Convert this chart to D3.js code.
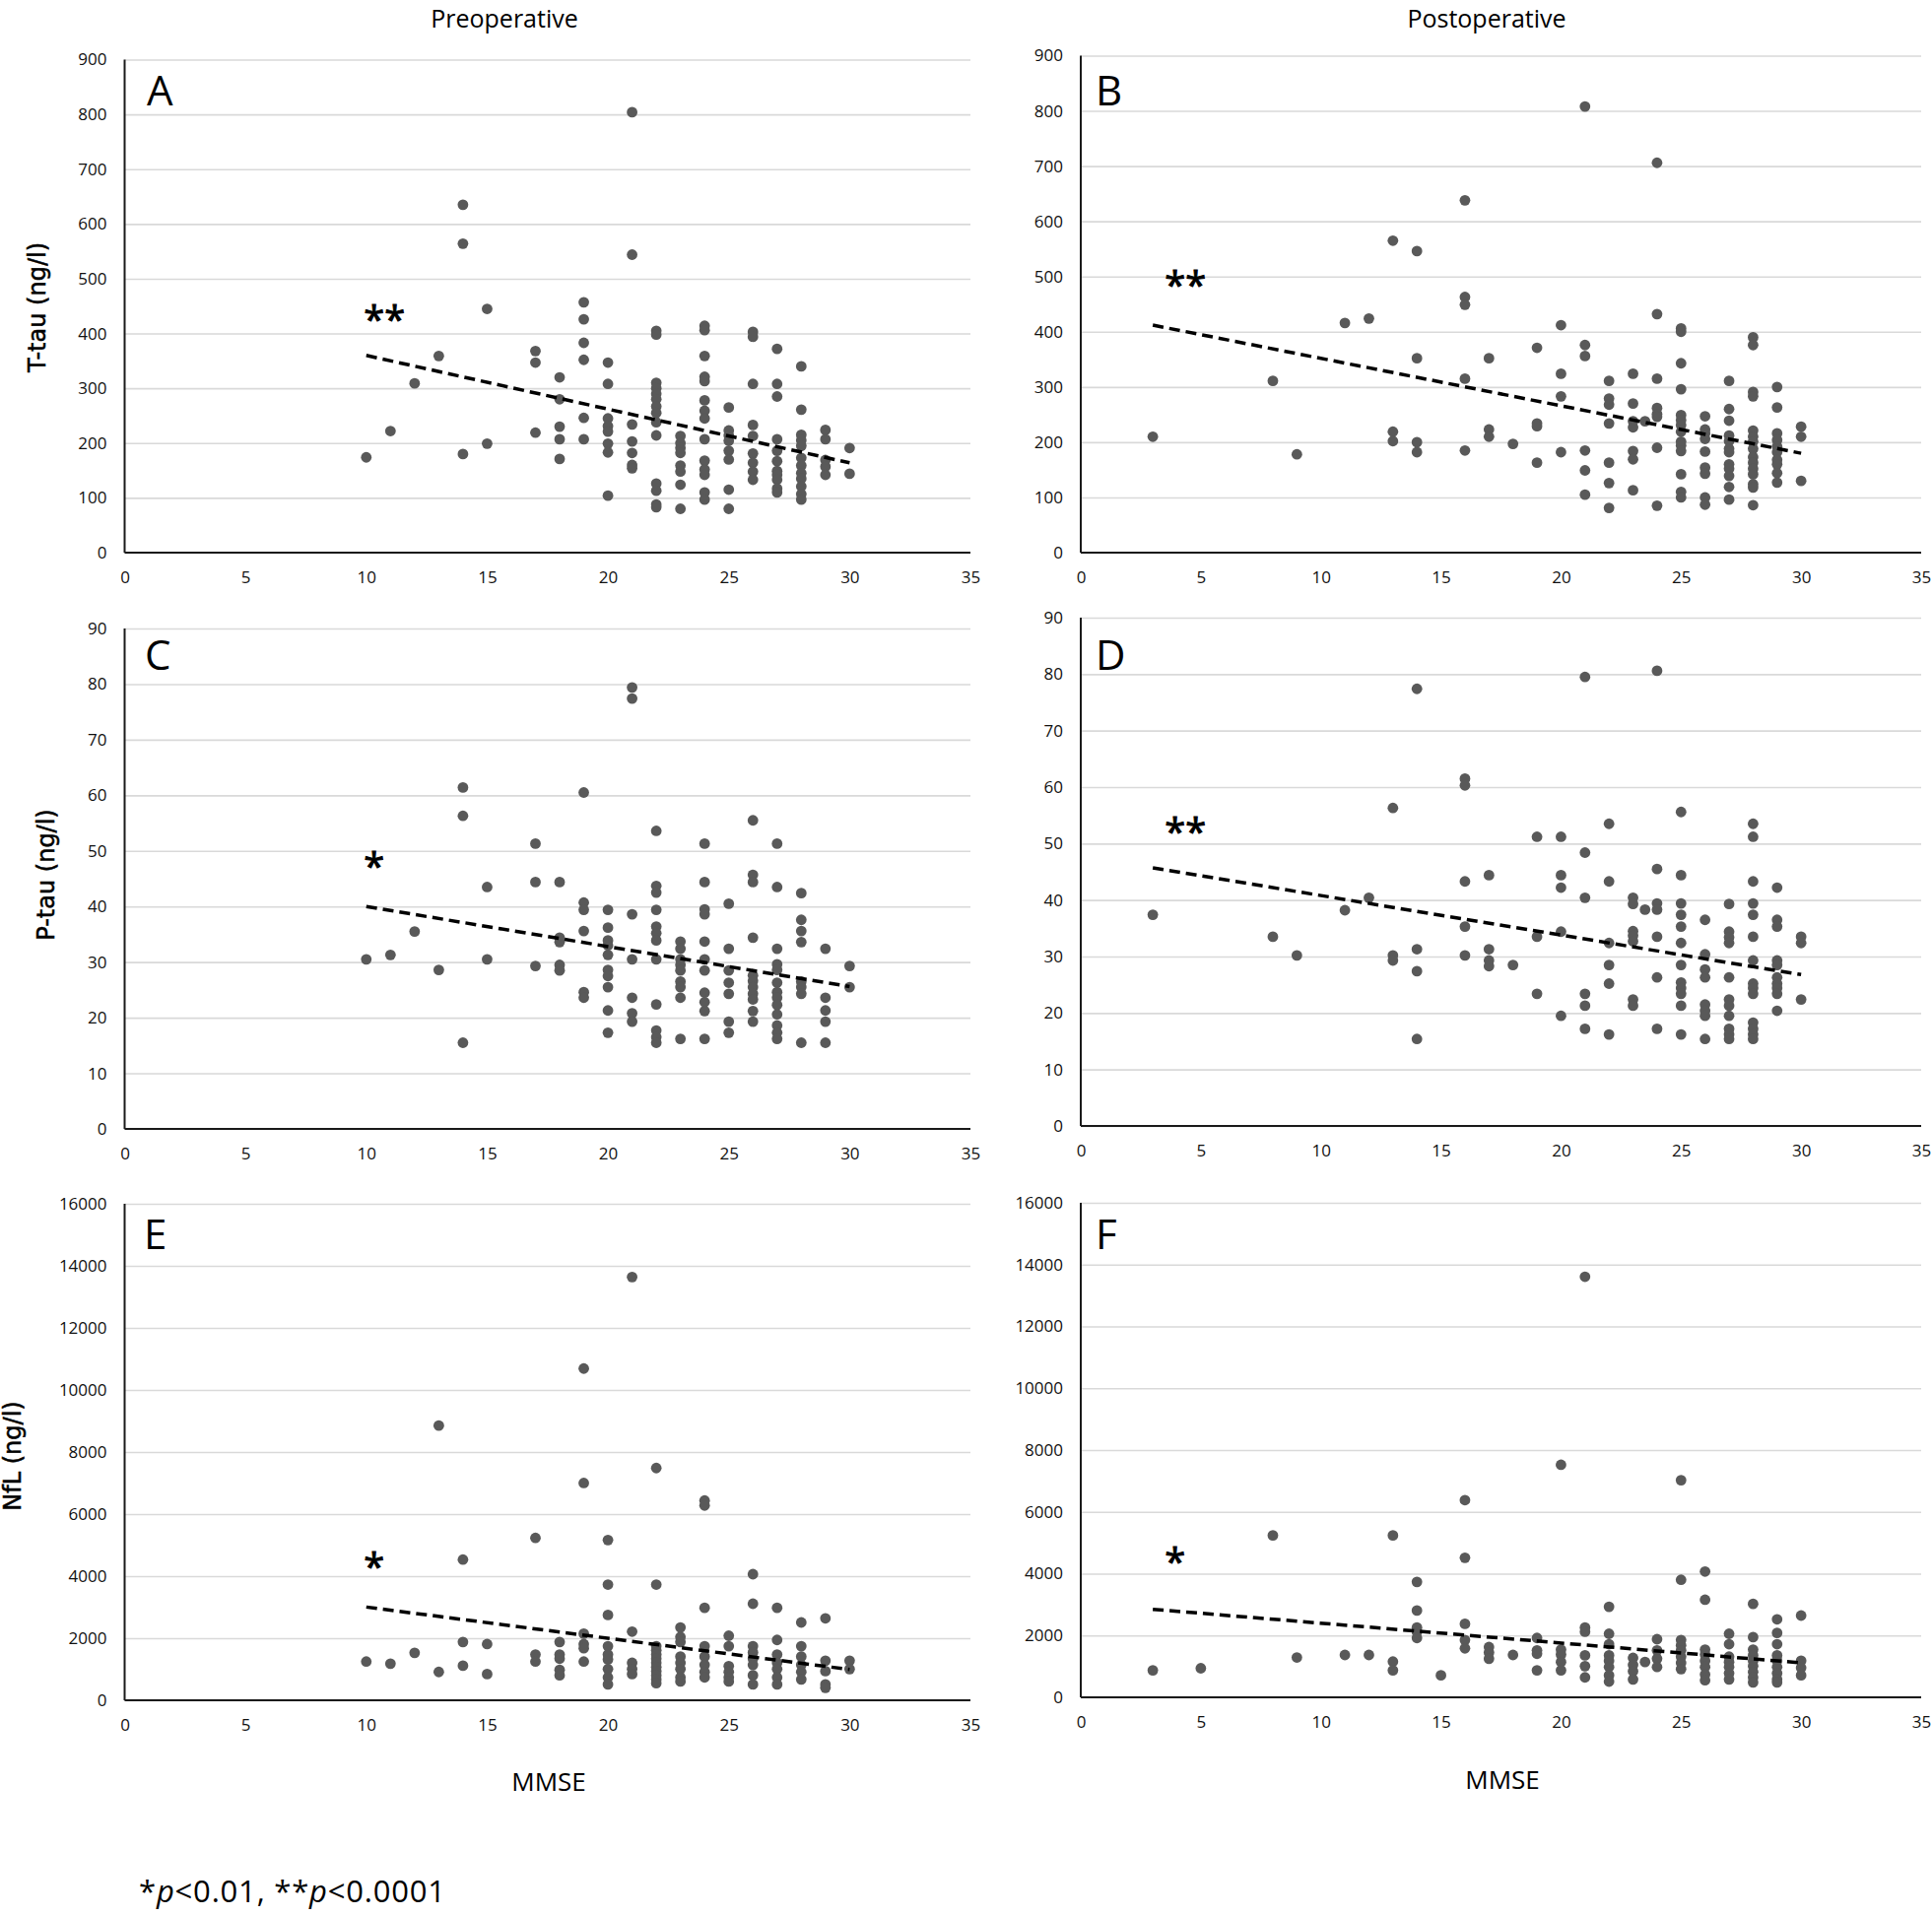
<!DOCTYPE html>
<html>
<head>
<meta charset="utf-8">
<script src="https://cdn.jsdelivr.net/npm/d3@7"></script>
<style>
  html, body { margin: 0; padding: 0; background: #fff; }
  svg { display: block; }
</style>
</head>
<body>
<svg id="chart" width="1961" height="1945"></svg>
<script>
// ---------------- DATA ----------------
// Each entry: [MMSE score, [biomarker values at that score]]
const ttauPre = [
  [10,[174]],[11,[222]],[12,[309]],[13,[359]],[14,[635,564,180]],[15,[445,199]],
  [17,[368,347,219]],[18,[320,280,230,207,171]],[19,[457,426,383,352,246,207]],
  [20,[347,308,245,231,221,199,183,104]],[21,[804,544,234,203,182,160,154]],
  [22,[405,398,310,300,290,280,267,255,238,214,126,113,88,83]],
  [23,[213,200,191,182,159,148,124,80]],
  [24,[414,406,359,321,313,278,259,245,207,168,152,142,110,97]],
  [25,[265,223,214,204,186,170,115,80]],[26,[403,394,308,233,213,181,164,148,133]],
  [27,[372,308,285,207,186,167,149,142,133,117,110]],
  [28,[340,261,215,205,195,173,159,145,135,121,107,97]],
  [29,[224,207,169,157,142]],[30,[191,144]]
];
const ttauPost = [
  [3,[210]],[8,[311]],[9,[178]],[11,[416]],[12,[424]],[13,[565,219,202]],
  [14,[546,352,200,182]],[16,[638,463,449,315,185]],[17,[352,223,210]],[18,[197]],
  [19,[371,234,229,163]],[20,[412,324,283,182]],[21,[808,376,356,185,149,105]],
  [22,[311,279,268,234,163,126,81]],[23,[324,270,238,227,184,169,113]],[23.5,[238]],
  [24,[706,432,315,262,251,246,190,85]],
  [25,[406,400,343,296,249,240,231,219,201,194,184,142,110,100]],
  [26,[247,223,216,206,183,154,143,100,87]],
  [27,[311,260,239,212,202,188,182,160,152,139,119,96]],
  [28,[390,376,291,283,221,210,201,188,173,163,152,142,124,118,86]],
  [29,[300,263,216,204,192,182,168,160,144,127]],[30,[228,210,130]]
];
const ptauPre = [
  [10,[30.5]],[11,[31.3]],[12,[35.5]],[13,[28.6]],[14,[61.4,56.3,15.5]],[15,[43.5,30.5]],
  [17,[51.3,44.4,29.3]],[18,[44.4,34.4,33.6,29.5,28.5]],[19,[60.5,40.7,39.4,35.6,24.6,23.6]],
  [20,[39.4,36.2,33.9,33.0,31.3,28.6,27.5,25.5,21.3,17.3]],
  [21,[79.4,77.4,38.6,30.5,23.6,20.8,19.3]],
  [22,[53.6,43.7,42.5,39.4,36.4,35.2,33.9,30.5,22.4,17.7,16.5,15.5]],
  [23,[33.7,32.4,30.5,29.5,28.5,26.5,25.5,23.6,16.2]],
  [24,[51.3,44.4,39.5,38.6,33.7,30.5,28.5,24.5,22.8,21.2,16.2]],
  [25,[40.5,32.4,28.5,26.3,24.3,19.3,17.3]],
  [26,[55.5,45.7,44.4,34.4,27.6,26.6,25.5,24.3,23.3,21.2,19.3]],
  [27,[51.3,43.5,32.4,29.6,28.6,26.3,24.6,23.6,22.3,20.6,18.6,17.3,16.2]],
  [28,[42.4,37.6,35.6,33.6,26.5,25.5,24.3,15.5]],
  [29,[32.4,23.6,21.3,19.3,15.5]],[30,[29.3,25.5]]
];
const ptauPost = [
  [3,[37.4]],[8,[33.5]],[9,[30.2]],[11,[38.2]],[12,[40.4]],[13,[56.3,30.2,29.3]],
  [14,[77.4,31.3,27.4,15.4]],[16,[61.5,60.3,43.3,35.3,30.2]],[17,[44.4,31.3,29.3,28.3]],
  [18,[28.5]],[19,[51.2,33.5,23.4]],[20,[51.2,44.4,42.2,34.4,19.5]],
  [21,[79.5,48.4,40.4,23.4,21.3,17.2]],[22,[53.5,43.3,32.4,28.5,25.2,16.2]],
  [23,[40.4,39.3,34.5,33.7,32.7,22.4,21.3]],[23.5,[38.3]],
  [24,[80.6,45.5,39.4,38.3,33.5,26.3,17.2]],
  [25,[55.6,44.4,39.4,37.4,35.3,32.4,28.5,25.4,24.4,23.4,21.3,16.2]],
  [26,[36.5,30.4,27.7,26.3,21.5,20.4,19.5,15.4]],
  [27,[39.3,34.4,33.4,32.4,26.3,22.4,21.3,19.5,17.2,16.2,15.4]],
  [28,[53.5,51.2,43.3,39.4,37.4,33.5,29.3,25.2,24.4,23.4,18.3,17.2,16.2,15.4]],
  [29,[42.2,36.5,35.3,29.3,28.5,26.3,25.2,24.4,23.4,20.4]],
  [30,[33.5,32.4,22.4]]
];
const nflPre = [
  [10,[1247]],[11,[1180]],[12,[1529]],[13,[8852,912]],[14,[4533,1878,1113]],[15,[1811,845]],
  [17,[5231,1475,1247]],[18,[1878,1475,1341,979,805]],
  [19,[10690,7001,2146,1811,1676,1247]],
  [20,[5164,3729,2750,1744,1475,1314,1006,738,510]],[21,[13640,2213,1207,1006,845]],
  [22,[7484,3729,1744,1609,1475,1340,1207,1073,940,805,670,550]],
  [23,[2347,2039,1878,1408,1207,1006,738,604]],
  [24,[6438,6277,2978,1744,1408,1140,912,738]],
  [25,[2079,1744,1100,912,738,604]],
  [26,[4064,3111,1744,1542,1341,1140,805,510]],
  [27,[2978,1945,1475,1207,1006,738,510]],
  [28,[2508,1744,1408,1140,912,671]],
  [29,[2642,1274,939,510,402]],[30,[1274,1006]]
];
const nflPost = [
  [3,[873]],[5,[940]],[8,[5239]],[9,[1290]],[11,[1370]],[12,[1370]],[13,[5239,1155,873]],
  [14,[3735,2808,2257,2122,1921]],[15,[712]],[16,[6381,4514,2378,1854,1585]],
  [17,[1625,1451,1249]],[18,[1370]],[19,[1921,1518,1410,873]],
  [20,[7523,1545,1384,1142,873]],[21,[13608,2257,2122,1357,1008,645]],
  [22,[2929,2055,1720,1357,1182,981,712,510]],[23,[1276,1048,846,578]],[23.5,[1142]],
  [24,[1881,1518,1249,981]],[25,[7026,3802,1854,1679,1518,1316,1115,913]],
  [26,[4070,3157,1545,1384,1182,981,739,551]],
  [27,[2055,1720,1316,1142,981,779,578]],
  [28,[3022,1948,1545,1357,1182,1008,819,645,484]],
  [29,[2525,2082,1720,1357,1182,981,779,578,484]],
  [30,[2646,1182,954,712]]
];

// Regression (dashed) line end points [MMSE, value]
const trendTtauPre  = [[10,360],[30,164]];
const trendTtauPost = [[3,412],[30,180]];
const trendPtauPre  = [[10,40.0],[30,25.6]];
const trendPtauPost = [[3,45.7],[30,26.8]];
const trendNflPre   = [[10,3004],[30,992]];
const trendNflPost  = [[3,2848],[30,1115]];

// Significance markers: [MMSE, value at top of glyph, text]
const starTtauPre  = [9.9, 451, "**"];
const starTtauPost = [3.5, 510, "**"];
const starPtauPre  = [9.9, 49.8, "*"];
const starPtauPost = [3.5, 54.7, "**"];
const starNflPre   = [9.9, 4775, "*"];
const starNflPost  = [3.5, 4845, "*"];

// Axis ticks
const xTicks = [0,5,10,15,20,25,30,35];
const yTicksTtau = [0,100,200,300,400,500,600,700,800,900];
const yTicksPtau = [0,10,20,30,40,50,60,70,80,90];
const yTicksNfl  = [0,2000,4000,6000,8000,10000,12000,14000,16000];

const panelLetters = ["A","B","C","D","E","F"];
const columnTitles = ["Preoperative","Postoperative"];
const yTitles = ["T-tau (ng/l)","P-tau (ng/l)","NfL (ng/l)"];
const xTitle = "MMSE";

// ---------------- LAYOUT ----------------
const svg = d3.select("#chart");
svg.append("rect").attr("width",1961).attr("height",1945).attr("fill","#fff");

const TICKFONT = "'Open Sans', sans-serif";
const panels = [
  {data:ttauPre,  trend:trendTtauPre,  star:starTtauPre,  ticks:yTicksTtau, left:126.5, right:985,  top:60.5, bottom:561,  lx:149,  ly:107},
  {data:ttauPost, trend:trendTtauPost, star:starTtauPost, ticks:yTicksTtau, left:1097,  right:1950, top:56.5, bottom:561,  lx:1112, ly:107},
  {data:ptauPre,  trend:trendPtauPre,  star:starPtauPre,  ticks:yTicksPtau, left:126.5, right:985,  top:638,  bottom:1146, lx:147,  ly:680},
  {data:ptauPost, trend:trendPtauPost, star:starPtauPost, ticks:yTicksPtau, left:1097,  right:1950, top:627,  bottom:1143, lx:1112, ly:680},
  {data:nflPre,   trend:trendNflPre,   star:starNflPre,   ticks:yTicksNfl,  left:126.5, right:985,  top:1222, bottom:1726, lx:146,  ly:1268},
  {data:nflPost,  trend:trendNflPost,  star:starNflPost,  ticks:yTicksNfl,  left:1097,  right:1950, top:1221, bottom:1723, lx:1112, ly:1268}
];

panels.forEach((p, i) => {
  const x = d3.scaleLinear().domain([0, 35]).range([p.left, p.right]);
  const y = d3.scaleLinear().domain([0, d3.max(p.ticks)]).range([p.bottom, p.top]);
  const g = svg.append("g");

  // y axis with gridlines
  g.append("g")
    .attr("transform", `translate(${p.left},0)`)
    .call(d3.axisLeft(y).tickValues(p.ticks).tickSize(-(p.right - p.left)).tickPadding(18).tickFormat(d3.format("d")))
    .call(s => s.select(".domain").remove())
    .call(s => s.selectAll(".tick line").attr("stroke", "#d9d9d9").attr("stroke-width", 1.6))
    .call(s => s.selectAll(".tick text").attr("font-family", TICKFONT).attr("font-size", 17).attr("fill", "#111"));

  // x axis labels
  g.append("g")
    .attr("transform", `translate(0,${p.bottom})`)
    .call(d3.axisBottom(x).tickValues(xTicks).tickSize(0).tickPadding(19))
    .call(s => s.select(".domain").remove())
    .call(s => s.selectAll(".tick text").attr("font-family", TICKFONT).attr("font-size", 17).attr("fill", "#111"));

  // axis lines
  g.append("line").attr("x1", p.left).attr("x2", p.left).attr("y1", p.top).attr("y2", p.bottom)
    .attr("stroke", "#1a1a1a").attr("stroke-width", 2);
  g.append("line").attr("x1", p.left).attr("x2", p.right).attr("y1", p.bottom).attr("y2", p.bottom)
    .attr("stroke", "#1a1a1a").attr("stroke-width", 2);

  // points
  const pts = p.data.flatMap(([m, vals]) => vals.map(v => [m, v]));
  g.append("g").selectAll("circle").data(pts).join("circle")
    .attr("cx", d => x(d[0])).attr("cy", d => y(d[1])).attr("r", 5.4)
    .attr("fill", "#595959");

  // regression line
  g.append("path")
    .attr("d", d3.line().x(d => x(d[0])).y(d => y(d[1]))(p.trend))
    .attr("fill", "none").attr("stroke", "#000").attr("stroke-width", 3.5)
    .attr("stroke-dasharray", "11,6");

  // significance stars
  g.append("text")
    .attr("x", x(p.star[0])).attr("y", y(p.star[1])).attr("dy", "0.74em")
    .attr("font-family", TICKFONT).attr("font-size", 38).attr("fill", "#000")
    .attr("stroke", "#000").attr("stroke-width", 1)
    .text(p.star[2]);

  // panel letter
  g.append("text").attr("x", p.lx).attr("y", p.ly)
    .attr("font-family", TICKFONT).attr("font-size", 42).attr("fill", "#000")
    .text(panelLetters[i]);
});

// column titles
svg.append("text").attr("x", 512).attr("y", 28).attr("text-anchor", "middle")
  .attr("font-family", TICKFONT).attr("font-size", 25).attr("fill", "#000").text(columnTitles[0]);
svg.append("text").attr("x", 1509).attr("y", 28).attr("text-anchor", "middle")
  .attr("font-family", TICKFONT).attr("font-size", 25).attr("fill", "#000").text(columnTitles[1]);

// y titles
const yTitlePos = [[46, 312], [55, 888], [21, 1478]];
yTitles.forEach((t, i) => {
  svg.append("text")
    .attr("transform", `translate(${yTitlePos[i][0]},${yTitlePos[i][1]}) rotate(-90)`)
    .attr("text-anchor", "middle")
    .attr("font-family", "'DejaVu Sans', Verdana, sans-serif").attr("font-size", 24).attr("fill", "#000")
    .attr("stroke", "#000").attr("stroke-width", 0.5)
    .text(t);
});

// x titles
[[557, 1818], [1525, 1816]].forEach(([cx, cy]) => {
  svg.append("text").attr("x", cx).attr("y", cy).attr("text-anchor", "middle")
    .attr("font-family", TICKFONT).attr("font-size", 26).attr("fill", "#000").text(xTitle);
});

// footnote
const foot = svg.append("text").attr("x", 141).attr("y", 1931)
  .attr("font-family", TICKFONT).attr("font-size", 31).attr("letter-spacing", 0.8).attr("fill", "#000");
foot.append("tspan").text("*");
foot.append("tspan").attr("font-style", "italic").text("p");
foot.append("tspan").text("<0.01, **");
foot.append("tspan").attr("font-style", "italic").text("p");
foot.append("tspan").text("<0.0001");
</script>
</body>
</html>
